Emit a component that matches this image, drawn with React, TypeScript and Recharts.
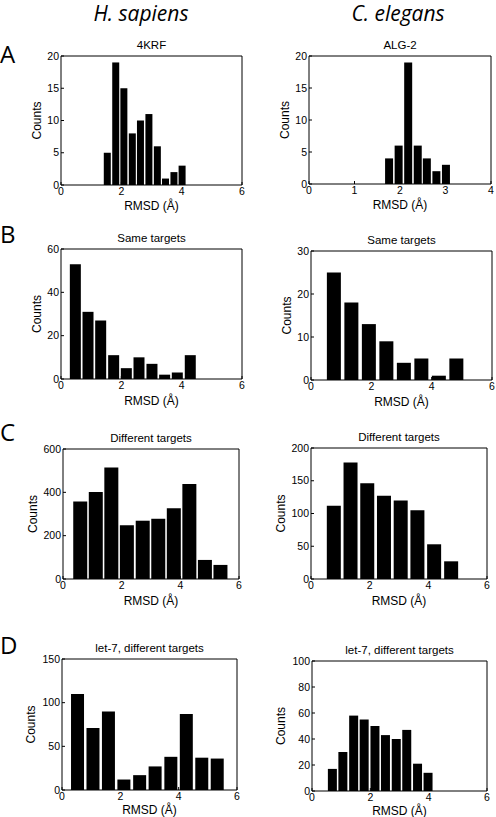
import { BarChart, Bar, XAxis, YAxis } from 'recharts';

// bin centres (RMSD, Å) and counts
const hsA_rmsd = [1.52, 1.8, 2.07, 2.35, 2.62, 2.9, 3.18, 3.45, 3.73, 4.0];
const hsA_counts = [5, 19, 15, 8, 10, 11, 6, 1, 2, 3];
const ceA_rmsd = [1.75, 1.96, 2.17, 2.38, 2.58, 2.79, 3.0];
const ceA_counts = [4, 6, 19, 6, 4, 2, 3];

const hsB_rmsd = [0.47, 0.89, 1.31, 1.74, 2.16, 2.58, 3.01, 3.43, 3.85, 4.28];
const hsB_counts = [53, 31, 27, 11, 5, 10, 7, 2, 3, 11];
const ceB_rmsd = [0.75, 1.33, 1.91, 2.49, 3.07, 3.65, 4.23, 4.81];
const ceB_counts = [25, 18, 13, 9, 4, 5, 1, 5];

const hsC_rmsd = [0.58, 1.11, 1.64, 2.17, 2.71, 3.24, 3.77, 4.3, 4.83, 5.36];
const hsC_counts = [358, 401, 515, 248, 269, 278, 326, 438, 88, 65];
const ceC_rmsd = [0.79, 1.36, 1.93, 2.5, 3.07, 3.64, 4.21, 4.79];
const ceC_counts = [112, 178, 146, 127, 120, 105, 53, 27];

const hsD_rmsd = [0.54, 1.07, 1.6, 2.13, 2.67, 3.2, 3.74, 4.27, 4.8, 5.33];
const hsD_counts = [110, 71, 90, 12, 17, 27, 38, 87, 37, 36];
const ceD_rmsd = [0.69, 1.05, 1.42, 1.78, 2.15, 2.51, 2.88, 3.24, 3.61, 3.97];
const ceD_counts = [17, 30, 58, 55, 50, 43, 40, 47, 21, 14];

const xTicks6 = [0, 2, 4, 6];
const xTicks4 = [0, 1, 2, 3, 4];
const yTicks20 = [0, 5, 10, 15, 20];
const yTicks60 = [0, 20, 40, 60];
const yTicks30 = [0, 10, 20, 30];
const yTicks600 = [0, 200, 400, 600];
const yTicks200 = [0, 50, 100, 150, 200];
const yTicks150 = [0, 50, 100, 150];
const yTicks100 = [0, 20, 40, 60, 80, 100];

const FONT = '"Liberation Sans", Arial, sans-serif';
const HEAD_FONT = '"Open Sans", "Noto Sans", sans-serif';

// box = plot frame [left, top, right, bottom]; yLab = "Counts" distance left of frame; xLab = "RMSD" distance below frame
const panels = [
  { title: '4KRF', x: hsA_rmsd, y: hsA_counts, xTicks: xTicks6, yTicks: yTicks20, box: [61, 56, 242, 185], barSize: 7, yLab: 24, xLab: 18 },
  { title: 'ALG-2', x: ceA_rmsd, y: ceA_counts, xTicks: xTicks4, yTicks: yTicks20, box: [309, 56, 491, 184], barSize: 8, yLab: 24, xLab: 18 },
  { title: 'Same targets', x: hsB_rmsd, y: hsB_counts, xTicks: xTicks6, yTicks: yTicks60, box: [61, 249, 242, 379], barSize: 11, yLab: 24, xLab: 19 },
  { title: 'Same targets', x: ceB_rmsd, y: ceB_counts, xTicks: xTicks6, yTicks: yTicks30, box: [311, 251, 492, 380], barSize: 14, yLab: 24, xLab: 19 },
  { title: 'Different targets', x: hsC_rmsd, y: hsC_counts, xTicks: xTicks6, yTicks: yTicks600, box: [63, 449, 239, 579], barSize: 14, yLab: 30, xLab: 19 },
  { title: 'Different targets', x: ceC_rmsd, y: ceC_counts, xTicks: xTicks6, yTicks: yTicks200, box: [311, 448, 487, 579], barSize: 14, yLab: 30, xLab: 19 },
  { title: 'let-7, different targets', x: hsD_rmsd, y: hsD_counts, xTicks: xTicks6, yTicks: yTicks150, box: [62, 659, 237, 790], barSize: 13, yLab: 31, xLab: 17 },
  { title: 'let-7, different targets', x: ceD_rmsd, y: ceD_counts, xTicks: xTicks6, yTicks: yTicks100, box: [312, 661, 487, 791], barSize: 9, yLab: 31, xLab: 17 },
];

const PAGE_H = 817;
const PAD_T = 10;
const PAD_R = 4;

function Hist({ p }: { p: (typeof panels)[number] }) {
  const [x0, y0, x1, y1] = p.box;
  const padL = p.yLab * 2;
  const padB = Math.min(32, PAGE_H - y1);
  const data = p.x.map((v, i) => ({ rmsd: v, count: p.y[i] }));
  const xMax = p.xTicks[p.xTicks.length - 1];
  const yMax = p.yTicks[p.yTicks.length - 1];
  const tick = { fill: '#000', fontSize: 10.5, fontFamily: FONT };
  return (
    <>
      <div
        style={{
          position: 'absolute',
          left: x0,
          width: x1 - x0,
          top: y0 - 18,
          textAlign: 'center',
          fontFamily: FONT,
          fontSize: 11.5,
          lineHeight: '14px',
        }}
      >
        {p.title}
      </div>
      <div style={{ position: 'absolute', left: x0 - padL, top: y0 - PAD_T }}>
        <BarChart
          width={x1 - x0 + padL + PAD_R}
          height={y1 - y0 + PAD_T + padB}
          data={data}
          margin={{ top: PAD_T, right: PAD_R, bottom: 0, left: 0 }}
        >
          <XAxis
            type="number"
            dataKey="rmsd"
            domain={[0, xMax]}
            ticks={p.xTicks}
            interval={0}
            allowDataOverflow
            height={padB}
            stroke="#000"
            tickSize={-3}
            tickMargin={6}
            tick={tick}
            label={{ value: 'RMSD (Å)', position: 'insideTop', offset: p.xLab - 1.5, fill: '#000', fontSize: 12, fontFamily: FONT }}
          />
          <XAxis xAxisId="top" type="number" orientation="top" mirror domain={[0, xMax]} ticks={p.xTicks} interval={0} stroke="#000" tickSize={3} tick={false} />
          <YAxis
            type="number"
            domain={[0, yMax]}
            ticks={p.yTicks}
            interval={0}
            allowDataOverflow
            width={padL}
            stroke="#000"
            tickSize={-3}
            tickMargin={5}
            tick={tick}
            label={{ value: 'Counts', angle: -90, position: 'center', fill: '#000', fontSize: 12, fontFamily: FONT }}
          />
          <YAxis yAxisId="right" type="number" orientation="right" mirror domain={[0, yMax]} ticks={p.yTicks} interval={0} stroke="#000" tickSize={3} tick={false} />
          <Bar dataKey="count" fill="#000" barSize={p.barSize} isAnimationActive={false} />
        </BarChart>
      </div>
    </>
  );
}

const heads = [
  { text: 'H. sapiens', cx: 141 },
  { text: 'C. elegans', cx: 398 },
];

const letters = [
  { text: 'A', top: 39 },
  { text: 'B', top: 219 },
  { text: 'C', top: 417 },
  { text: 'D', top: 630 },
];

export default function App() {
  return (
    <div style={{ position: 'absolute', left: 0, top: 0, width: 496, height: PAGE_H, background: '#fff', overflow: 'hidden' }}>
      {heads.map((h) => (
        <div
          key={h.text}
          style={{
            position: 'absolute',
            left: h.cx - 80,
            width: 160,
            top: -1,
            textAlign: 'center',
            fontFamily: HEAD_FONT,
            fontStyle: 'italic',
            fontSize: 21,
            lineHeight: '28px',
          }}
        >
          {h.text}
        </div>
      ))}
      {letters.map((l) => (
        <div
          key={l.text}
          style={{ position: 'absolute', left: 0, top: l.top, fontFamily: HEAD_FONT, fontSize: 24, lineHeight: '30px' }}
        >
          {l.text}
        </div>
      ))}
      {panels.map((p, i) => (
        <Hist key={i} p={p} />
      ))}
    </div>
  );
}
